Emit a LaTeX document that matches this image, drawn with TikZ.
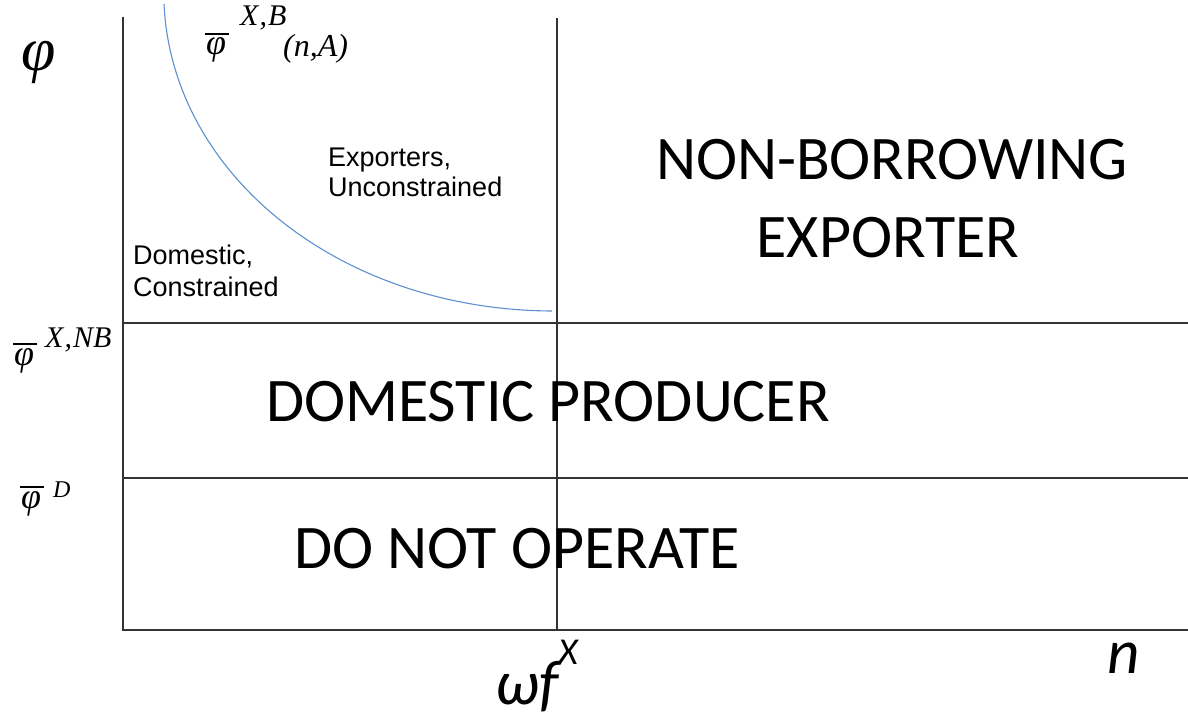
\documentclass[tikz,border=0pt]{standalone}
\usepackage{fontspec}
\setmainfont{Carlito}
\newfontfamily\arialf{Liberation Sans}
\newfontfamily\timesf{Liberation Serif}
\definecolor{axisgray}{HTML}{333333}
\definecolor{curveblue}{HTML}{5E8FD0}
\tikzset{
  axisline/.style={draw=axisgray, line width=2.4pt},
  gridline/.style={draw=axisgray, line width=2pt},
  bigcap/.style={inner sep=0pt, anchor=base, font=\fontsize{62}{74}\selectfont},
  smalltxt/.style={inner sep=0pt, anchor=base west, font=\arialf\fontsize{27}{31}\selectfont},
  phisym/.style={inner sep=0pt, anchor=base west, font=\timesf\itshape\fontsize{36}{40}\selectfont},
  suptxt/.style={inner sep=0pt, anchor=base west, font=\timesf\itshape\fontsize{30}{34}\selectfont},
  axlabel/.style={inner sep=0pt, anchor=base west, font=\itshape\fontsize{63}{70}\selectfont},
  barline/.style={draw=black, line width=1.4pt}
}
\begin{document}
\begin{tikzpicture}[x=1pt,y=-1pt]
\useasboundingbox (0,0) rectangle (1188,719);
% coordinates
\coordinate (top) at (123,17);
\coordinate (origin) at (123,630);
\coordinate (xend) at (1188,630);
\coordinate (vtop) at (557,18);
\coordinate (vbot) at (557,630);
\coordinate (h1l) at (123,323);
\coordinate (h1r) at (1188,323);
\coordinate (h2l) at (123,478);
\coordinate (h2r) at (1188,478);
\coordinate (cstart) at (164,4);
\coordinate (cend) at (552,311);
% lines
\draw[gridline] (h1l) -- (h1r);
\draw[gridline] (h2l) -- (h2r);
\draw[gridline] (vtop) -- (vbot);
\draw[axisline] (top) -- (origin) -- (xend);
\draw[curveblue, line width=1.1pt] (cstart) .. controls (172,175) and (340,310) .. (cend);
% region labels
\node[bigcap] (nb1) at (892,180) {NON-BORROWING};
\node[bigcap] (nb2) at (888,258) {EXPORTER};
\node[bigcap] (dp) at (548,421) {DOMESTIC PRODUCER};
\node[bigcap] (dno) at (517,568) {DO NOT OPERATE};
\node[smalltxt] (ex1) at (328,167) {Exporters,};
\node[smalltxt] (ex2) at (328,197) {Unconstrained};
\node[smalltxt] (dc1) at (133,265) {Domestic,};
\node[smalltxt] (dc2) at (133,296) {Constrained};
% axis labels
\node[inner sep=0pt, anchor=base west, font=\timesf\itshape\fontsize{62}{68}\selectfont] (phiax) at (21,71) {φ};
\node[phisym] (phiB) at (206,55) {φ};
\draw[barline] ([xshift=-1pt,yshift=4pt]phiB.north west) -- ([xshift=3pt,yshift=4pt]phiB.north east);
\node[suptxt] (supB) at (240,26) {X\kern1pt,\kern1pt B};
\node[inner sep=0pt, anchor=base west, font=\timesf\itshape\fontsize{32}{36}\selectfont] (subB) at (283,57) {(n,A)};
\node[phisym] (phiNB) at (14,365) {φ};
\draw[barline] ([xshift=-1pt,yshift=4pt]phiNB.north west) -- ([xshift=3pt,yshift=4pt]phiNB.north east);
\node[suptxt] (supNB) at (45,347) {X\kern1pt,\kern1pt NB};
\node[phisym] (phiD) at (21,508) {φ};
\draw[barline] ([xshift=-1pt,yshift=4pt]phiD.north west) -- ([xshift=3pt,yshift=4pt]phiD.north east);
\node[inner sep=0pt, anchor=base west, font=\timesf\itshape\fontsize{24}{28}\selectfont] (supD) at (53,497) {D};
\node[axlabel] (wf) at (495,704) {ωf};
\node[inner sep=0pt, anchor=base west, font=\itshape\fontsize{38}{42}\selectfont] (wfX) at (558,664) {X};
\node[axlabel] (nlab) at (1107,673) {n};
\end{tikzpicture}
\end{document}
